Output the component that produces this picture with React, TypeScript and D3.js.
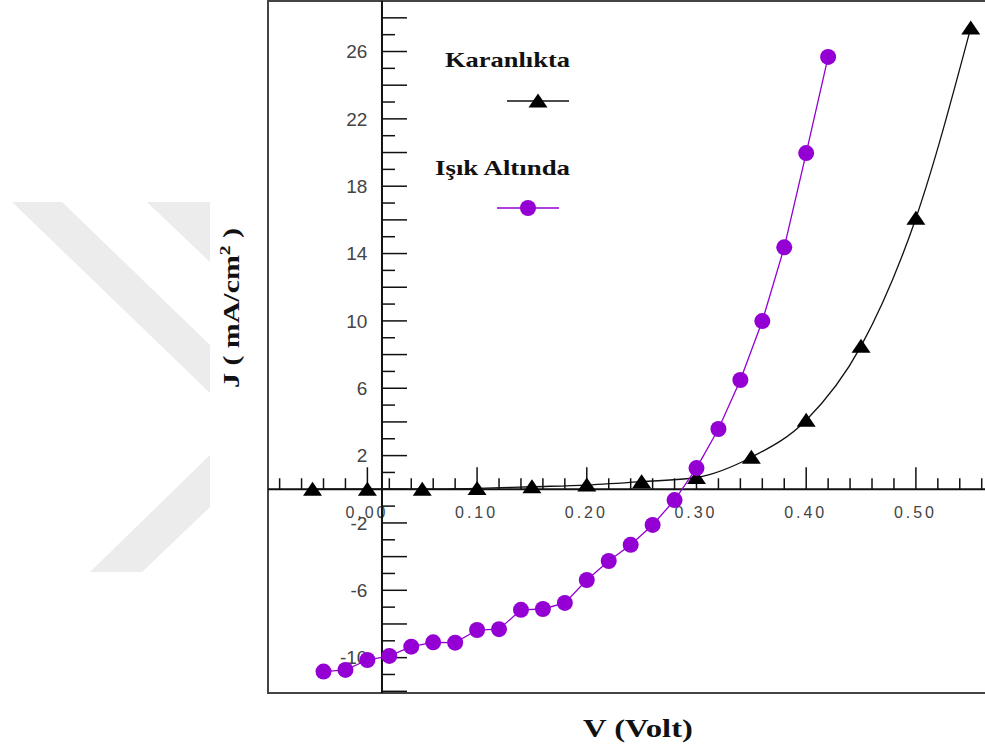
import * as d3 from 'd3'

// Karanlıkta (dark) J-V data
const darkV = [-0.05, 0.0, 0.05, 0.1, 0.15, 0.2, 0.25, 0.3, 0.35, 0.4, 0.45, 0.5, 0.55]
const darkJ = [0.0, 0.0, 0.0, 0.05, 0.15, 0.25, 0.45, 0.7, 1.9, 4.1, 8.5, 16.1, 27.4]

// Işık Altında (illuminated) J-V data
const lightV = [
  -0.04, -0.02, 0.0, 0.02, 0.04, 0.06, 0.08, 0.1, 0.12, 0.14, 0.16, 0.18,
  0.2, 0.22, 0.24, 0.26, 0.28, 0.3, 0.32, 0.34, 0.36, 0.38, 0.4, 0.42,
]
const lightJ = [
  -10.83, -10.73, -10.14, -9.9, -9.35, -9.09, -9.11, -8.36, -8.31, -7.16, -7.11, -6.75,
  -5.39, -4.26, -3.3, -2.12, -0.64, 1.26, 3.58, 6.49, 9.99, 14.37, 19.97, 25.68,
]

const xTickLabels = ['0.00', '0.10', '0.20', '0.30', '0.40', '0.50']
const yTickLabels = [-10, -6, -2, 2, 6, 10, 14, 18, 22, 26]

const W = 985
const H = 749
const purple = '#9400d3'
const serif = '"Liberation Serif", "Times New Roman", serif'
const sans = '"Liberation Sans", Arial, sans-serif'

export default function App() {
  const frame = { left: 268, top: 1, bottom: 693 }

  const x = d3.scaleLinear().domain([-0.0906, 0.563]).range([frame.left, W])
  const y = d3.scaleLinear().domain([-12.1, 29.0]).range([frame.bottom, frame.top])

  // y axis crosses slightly right of V = 0 in the original
  const axisX = x(0.0133)
  const axisY = y(0)

  const xMinor = d3.range(-4, 29).map((i) => i * 0.02)
  const yTicks = d3.range(-12, 29)

  const darkLine = d3
    .line<number>()
    .x((_, i) => x(darkV[i]))
    .y((d) => y(d))
    .curve(d3.curveMonotoneX)
  const lightLine = d3
    .line<number>()
    .x((_, i) => x(lightV[i]))
    .y((d) => y(d))

  const tri = 'M0,-7.5 L9.5,6.5 L-9.5,6.5 Z'

  return (
    <svg
      width={W}
      height={H}
      style={{ position: 'absolute', left: 0, top: 0, background: '#fff' }}
    >
      {/* watermark */}
      <g fill="#ececec">
        <polygon points="12,202 62,202 210,345 210,393" />
        <polygon points="147,202 210,202 210,262" />
        <polygon points="90,572 142,572 210,507 210,455" />
      </g>

      {/* plot frame */}
      <rect
        x={frame.left}
        y={frame.top}
        width={W + 50 - frame.left}
        height={frame.bottom - frame.top}
        fill="none"
        stroke="#444"
        strokeWidth={2}
      />

      {/* x axis */}
      <line x1={frame.left} x2={W} y1={axisY} y2={axisY} stroke="#111" strokeWidth={2} />
      {xMinor.map((v, i) => {
        const major = Math.abs(Math.round(v * 100) % 10) === 0
        return (
          <line
            key={'xt' + i}
            x1={x(v)}
            x2={x(v)}
            y1={axisY}
            y2={axisY - (major ? 22 : 11)}
            stroke="#111"
            strokeWidth={1.5}
          />
        )
      })}
      {xTickLabels.map((t) => (
        <text
          key={'xl' + t}
          x={x(+t) - 2}
          y={axisY + 29}
          textAnchor="middle"
          fontFamily={sans}
          fontSize={16}
          fill="#444"
          textLength={40}
        >
          {t}
        </text>
      ))}

      {/* y axis */}
      <line x1={axisX} x2={axisX} y1={frame.top} y2={frame.bottom} stroke="#111" strokeWidth={2} />
      {yTicks.map((v) => (
        <line
          key={'yt' + v}
          x1={axisX}
          x2={axisX + (v % 2 === 0 ? 25 : 13)}
          y1={y(v)}
          y2={y(v)}
          stroke="#111"
          strokeWidth={1.5}
        />
      ))}
      {yTickLabels.map((v) => (
        <text
          key={'yl' + v}
          x={x(0)}
          y={y(v)}
          dy="0.36em"
          textAnchor="end"
          fontFamily={sans}
          fontSize={19}
          fill="#444"
        >
          {v}
        </text>
      ))}

      {/* dark series */}
      <path d={darkLine(darkJ) ?? ''} fill="none" stroke="#111" strokeWidth={1.3} />
      {darkJ.map((d, i) => (
        <path key={'dm' + i} d={tri} transform={`translate(${x(darkV[i])},${y(d)})`} fill="#000" />
      ))}

      {/* light series */}
      <path d={lightLine(lightJ) ?? ''} fill="none" stroke={purple} strokeWidth={1.3} />
      {lightJ.map((d, i) => (
        <circle key={'lm' + i} cx={x(lightV[i])} cy={y(d)} r={8} fill={purple} />
      ))}

      {/* legend */}
      <text x={445} y={67} fontFamily={serif} fontWeight="bold" fontSize={21} fill="#111" textLength={125} lengthAdjust="spacingAndGlyphs">
        Karanlıkta
      </text>
      <line x1={507} x2={569} y1={101} y2={101} stroke="#111" strokeWidth={1.5} />
      <path d={tri} transform="translate(538,101)" fill="#000" />

      <text x={435} y={175} fontFamily={serif} fontWeight="bold" fontSize={21} fill="#111" textLength={135} lengthAdjust="spacingAndGlyphs">
        Işık Altında
      </text>
      <line x1={497} x2={559} y1={208} y2={208} stroke={purple} strokeWidth={1.5} />
      <circle cx={528} cy={208} r={8} fill={purple} />

      {/* axis titles */}
      <text
        x={638}
        y={737}
        textAnchor="middle"
        fontFamily={serif}
        fontWeight="bold"
        fontSize={26}
        fill="#111"
        textLength={110}
        lengthAdjust="spacingAndGlyphs"
      >
        V (Volt)
      </text>
      <text
        transform="translate(239,308) rotate(-90)"
        textAnchor="middle"
        fontFamily={serif}
        fontWeight="bold"
        fontSize={23}
        fill="#111"
        textLength={160}
        lengthAdjust="spacingAndGlyphs"
      >
        J ( mA/cm<tspan dy={-9} fontSize={15}>2</tspan><tspan dy={9}> )</tspan>
      </text>
    </svg>
  )
}
